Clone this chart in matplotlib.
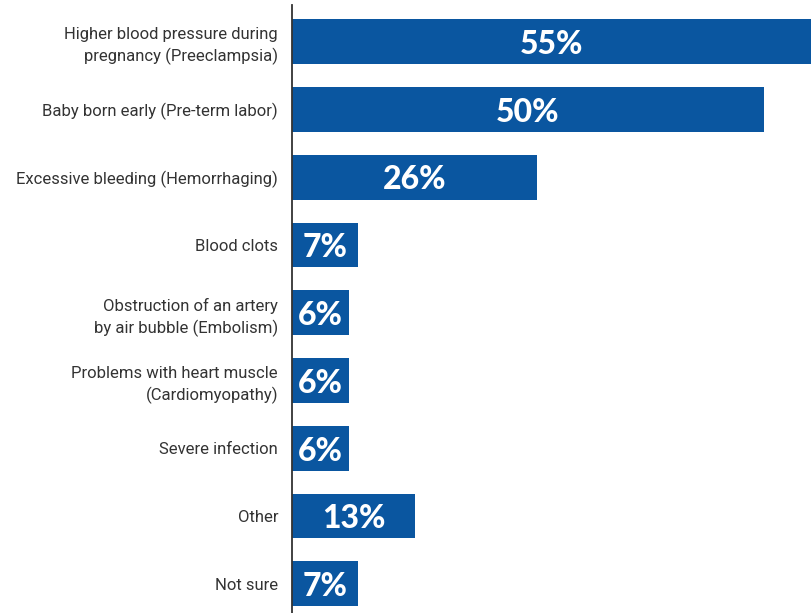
import matplotlib
matplotlib.use("Agg")
import matplotlib.pyplot as plt

categories = [
    "Higher blood pressure during\npregnancy (Preeclampsia)",
    "Baby born early (Pre-term labor)",
    "Excessive bleeding (Hemorrhaging)",
    "Blood clots",
    "Obstruction of an artery\nby air bubble (Embolism)",
    "Problems with heart muscle\n(Cardiomyopathy)",
    "Severe infection",
    "Other",
    "Not sure",
]
values = [55, 50, 26, 7, 6, 6, 6, 13, 7]
value_labels = ["55%", "50%", "26%", "7%", "6%", "6%", "6%", "13%", "7%"]

W, H = 812, 613
fig = plt.figure(figsize=(W / 100, H / 100), dpi=100)
ax = fig.add_axes([292 / W, 0, (W - 292) / W, 1 - 5 / H])

bar_color = "#0A56A0"
y = list(range(len(categories)))
ax.barh(y, values, height=0.66, color=bar_color)
ax.set_xlim(0, 55.08)
ax.set_ylim(8.43, -0.54)

for yi, v, lab in zip(y, values, value_labels):
    ax.text(v / 2, yi + 0.04, lab, ha="center", va="center", color="white",
            fontsize=23, fontweight="black", family="Lato")

ax.set_yticks(y)
ax.set_yticklabels(categories, fontsize=12, color="#333333", family="Roboto",
                   linespacing=1.4)
ax.tick_params(axis="y", length=0, pad=10)
ax.set_xticks([])
for s in ["top", "right", "bottom"]:
    ax.spines[s].set_visible(False)
ax.spines["left"].set_color("#333333")
ax.spines["left"].set_linewidth(1.3)

fig.savefig("out.png", dpi=100)
